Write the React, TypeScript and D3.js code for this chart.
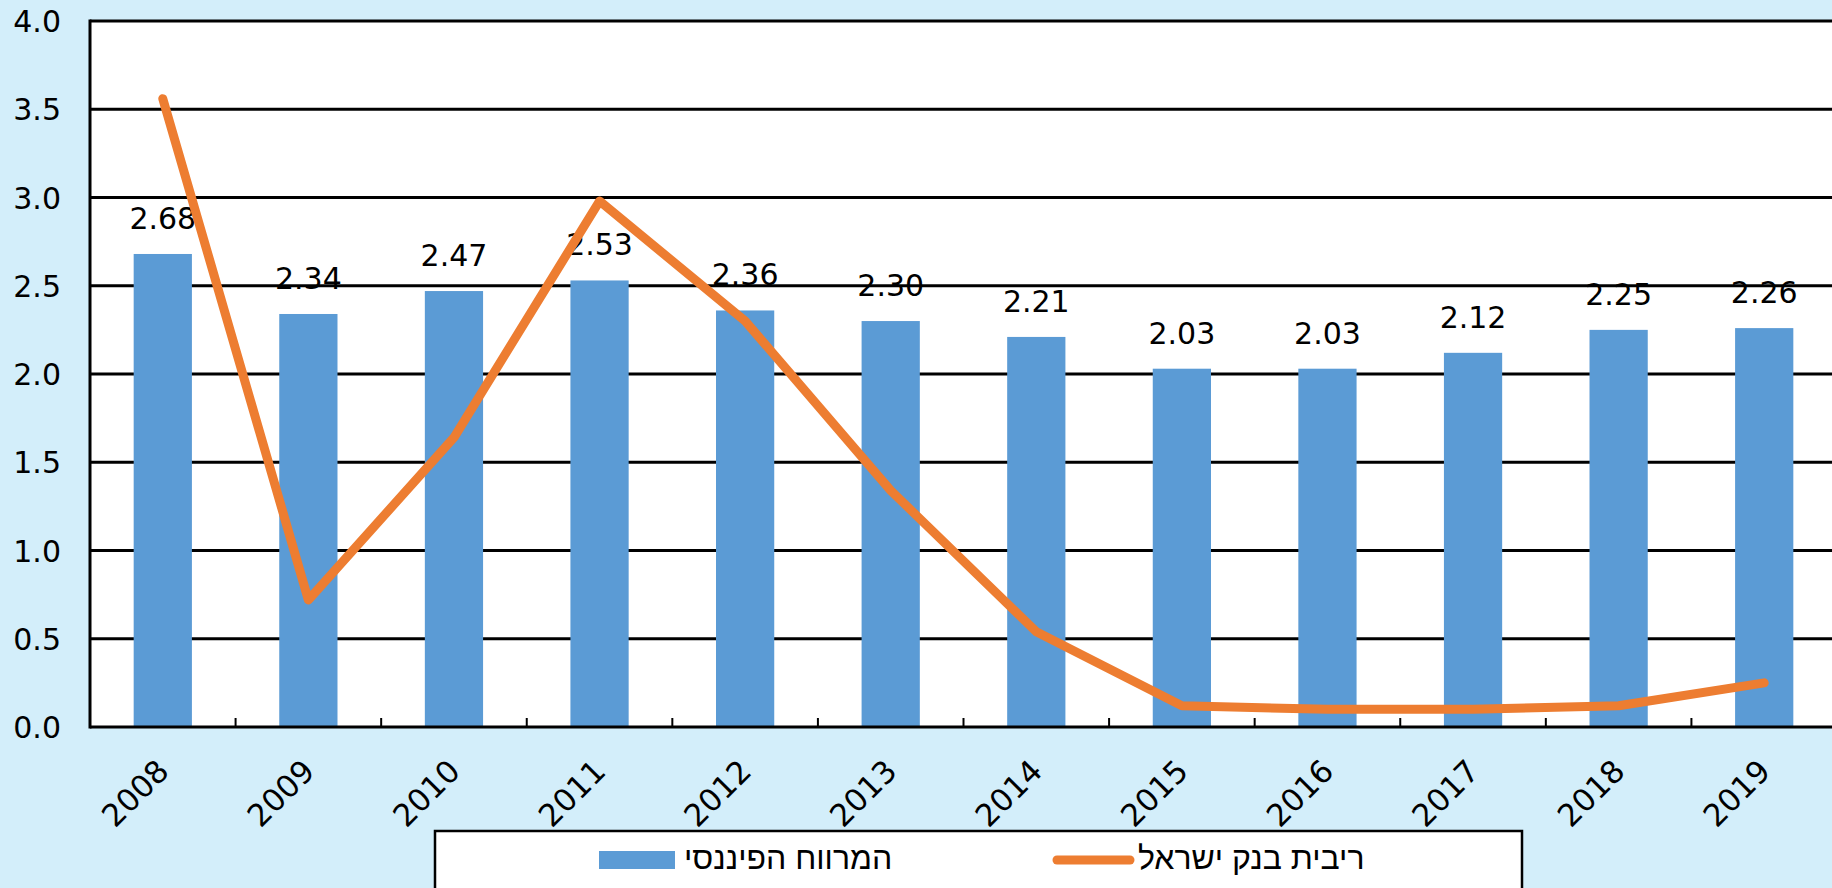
import * as d3 from 'd3'
import { useEffect, useRef } from "react";

const years = ['2008', '2009', '2010', '2011', '2012', '2013', '2014', '2015', '2016', '2017', '2018', '2019'];
const spread = [2.68, 2.34, 2.47, 2.53, 2.36, 2.30, 2.21, 2.03, 2.03, 2.12, 2.25, 2.26];
const boiRate = [3.56, 0.72, 1.64, 2.98, 2.30, 1.34, 0.54, 0.12, 0.10, 0.10, 0.12, 0.25];
const yTicks = [0, 0.5, 1, 1.5, 2, 2.5, 3, 3.5, 4];
const spreadName = 'המרווח הפיננסי';
const rateName = 'ריבית בנק ישראל';

const W = 1832;
const H = 888;
const BG = '#d3eefa';
const BLUE = '#5b9bd5';
const ORANGE = '#ed7d31';
const NUM_FONT = '"DejaVu Sans", Verdana, sans-serif';
const HEB_FONT = '"Liberation Sans", Arial, sans-serif';

const App = () => {
  const svgRef = useRef(null);

  useEffect(() => {
    const svg = d3.select(svgRef.current);
    svg.selectAll('*').remove();

    const left = 90, right = 1837, top = 21, bottom = 727;

    const x = d3.scaleBand()
      .domain(years)
      .range([left, right])
      .paddingInner(0.6)
      .paddingOuter(0.3);
    const step = x.step();

    const y = d3.scaleLinear().domain([0, 4]).range([bottom, top]);

    // plot area
    svg.append('rect')
      .attr('x', left).attr('y', top)
      .attr('width', right - left).attr('height', bottom - top)
      .attr('fill', 'white');

    // gridlines
    svg.selectAll('line.grid')
      .data(yTicks.filter(t => t > 0))
      .enter()
      .append('line')
      .attr('class', 'grid')
      .attr('x1', left).attr('x2', right)
      .attr('y1', d => y(d)).attr('y2', d => y(d))
      .attr('stroke', 'black')
      .attr('stroke-width', 3);

    // y tick labels
    svg.selectAll('text.ytick')
      .data(yTicks)
      .enter()
      .append('text')
      .attr('class', 'ytick')
      .attr('x', 61)
      .attr('y', d => y(d) + 11)
      .attr('text-anchor', 'end')
      .attr('font-family', NUM_FONT)
      .attr('font-size', 30)
      .attr('fill', 'black')
      .text(d => d.toFixed(1));

    // bars
    svg.selectAll('rect.bar')
      .data(spread)
      .enter()
      .append('rect')
      .attr('class', 'bar')
      .attr('x', (d, i) => x(years[i]))
      .attr('y', d => y(d))
      .attr('width', x.bandwidth())
      .attr('height', d => bottom - y(d))
      .attr('fill', BLUE);

    // bar labels
    svg.selectAll('text.vlabel')
      .data(spread)
      .enter()
      .append('text')
      .attr('class', 'vlabel')
      .attr('x', (d, i) => x(years[i]) + x.bandwidth() / 2)
      .attr('y', d => y(d) - 25)
      .attr('text-anchor', 'middle')
      .attr('font-family', NUM_FONT)
      .attr('font-size', 30)
      .attr('fill', 'black')
      .text(d => d.toFixed(2));

    // axes
    svg.append('line')
      .attr('x1', left).attr('x2', left)
      .attr('y1', top - 1.5).attr('y2', bottom + 1.5)
      .attr('stroke', 'black').attr('stroke-width', 3);
    svg.append('line')
      .attr('x1', left).attr('x2', right)
      .attr('y1', bottom).attr('y2', bottom)
      .attr('stroke', 'black').attr('stroke-width', 3);

    // x ticks between categories
    svg.selectAll('line.xtick')
      .data(years.slice(1))
      .enter()
      .append('line')
      .attr('class', 'xtick')
      .attr('x1', d => x(d) - step * 0.3).attr('x2', d => x(d) - step * 0.3)
      .attr('y1', bottom).attr('y2', bottom - 9)
      .attr('stroke', 'black').attr('stroke-width', 2);

    // x labels
    svg.selectAll('text.xlabel')
      .data(years)
      .enter()
      .append('text')
      .attr('class', 'xlabel')
      .attr('transform', d => `translate(${x(d) + x.bandwidth() / 2 + 8},${bottom + 46}) rotate(-45)`)
      .attr('text-anchor', 'end')
      .attr('font-family', NUM_FONT)
      .attr('font-size', 31)
      .attr('fill', 'black')
      .text(d => d);

    // rate line
    const line = d3.line()
      .x((d, i) => x(years[i]) + x.bandwidth() / 2)
      .y(d => y(d));
    svg.append('path')
      .attr('d', line(boiRate))
      .attr('fill', 'none')
      .attr('stroke', ORANGE)
      .attr('stroke-width', 9)
      .attr('stroke-linecap', 'round')
      .attr('stroke-linejoin', 'round');

    // legend
    const lg = svg.append('g');
    lg.append('rect')
      .attr('x', 435).attr('y', 831)
      .attr('width', 1087).attr('height', 80)
      .attr('fill', 'white')
      .attr('stroke', 'black').attr('stroke-width', 2.5);
    lg.append('rect')
      .attr('x', 599).attr('y', 851)
      .attr('width', 76).attr('height', 18)
      .attr('fill', BLUE);
    lg.append('text')
      .attr('x', 684).attr('y', 869)
      .attr('text-anchor', 'start')
      .attr('font-family', HEB_FONT)
      .attr('font-size', 32)
      .attr('fill', 'black')
      .text(spreadName);
    lg.append('line')
      .attr('x1', 1057).attr('x2', 1130)
      .attr('y1', 860).attr('y2', 860)
      .attr('stroke', ORANGE).attr('stroke-width', 9)
      .attr('stroke-linecap', 'round');
    lg.append('text')
      .attr('x', 1138).attr('y', 869)
      .attr('text-anchor', 'start')
      .attr('font-family', HEB_FONT)
      .attr('font-size', 32)
      .attr('fill', 'black')
      .text(rateName);
  }, []);

  return (
    <svg
      ref={svgRef}
      width={W}
      height={H}
      style={{ position: 'absolute', left: 0, top: 0, display: 'block', background: BG }}
    />
  );
};

export default App;
